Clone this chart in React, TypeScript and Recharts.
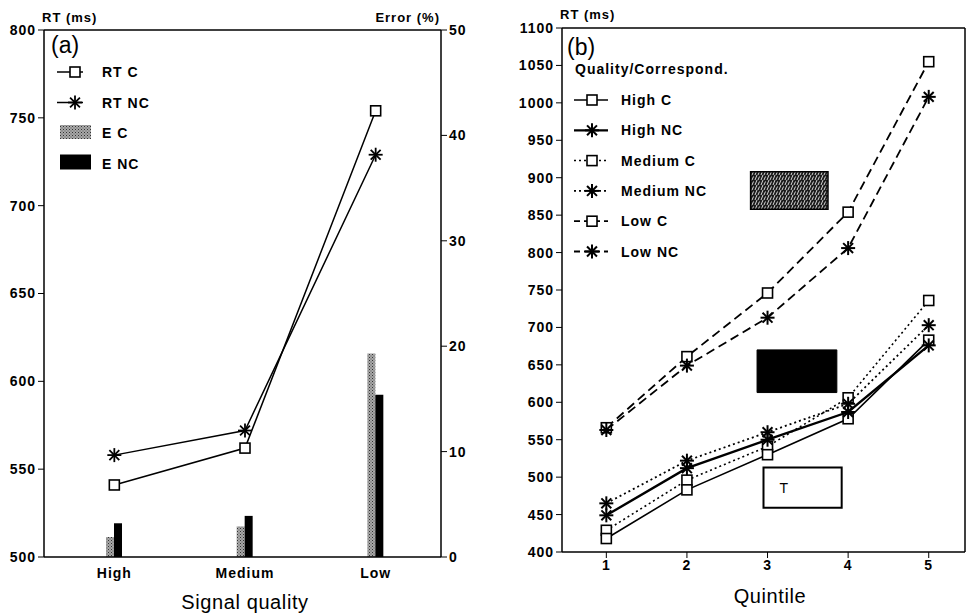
import React from 'react';
import { ComposedChart, Line, Bar, XAxis, YAxis, ReferenceLine, ReferenceArea } from 'recharts';

// ---------- Panel (a) data ----------
const qualityLevels = ['High', 'Medium', 'Low'];
const rtC = [541, 562, 754];
const rtNC = [558, 572, 729];
const errC = [1.9, 2.9, 19.3];
const errNC = [3.2, 3.9, 15.4];
const rtTicksA = [500, 550, 600, 650, 700, 750, 800];
const errTicks = [0, 10, 20, 30, 40, 50];

// ---------- Panel (b) data ----------
const quintiles = [1, 2, 3, 4, 5];
const highC = [418, 483, 530, 578, 683];
const highNC = [449, 512, 550, 587, 676];
const mediumC = [429, 496, 541, 606, 736];
const mediumNC = [465, 522, 560, 598, 703];
const lowC = [566, 661, 746, 854, 1055];
const lowNC = [563, 649, 713, 806, 1008];
const rtTicksB = [400, 450, 500, 550, 600, 650, 700, 750, 800, 850, 900, 950, 1000, 1050, 1100];

// annotation boxes in panel (b) (data coordinates)
const boxGray = { x1: 2.79, x2: 3.75, y1: 858, y2: 908 };
const boxBlack = { x1: 2.87, x2: 3.86, y1: 613, y2: 670 };
const boxT = { x1: 2.95, x2: 3.92, y1: 459, y2: 513 };

const dataA = qualityLevels.map((q, i) => ({ q, rtC: rtC[i], rtNC: rtNC[i], errC: errC[i], errNC: errNC[i] }));
const dataB = quintiles.map((q, i) => ({
  q,
  highC: highC[i],
  highNC: highNC[i],
  mediumC: mediumC[i],
  mediumNC: mediumNC[i],
  lowC: lowC[i],
  lowNC: lowNC[i],
}));

const FONT = '"Liberation Sans", Arial, sans-serif';
const tickStyle = { fontSize: 14, fontWeight: 700, fill: '#000', fontFamily: FONT, letterSpacing: 1 };

const squareDot = (size: number, sw: number) => (p: any) => {
  const { cx, cy, index } = p;
  if (cx == null || cy == null) return <g key={`s${index}`} />;
  return (
    <rect key={`s${index}`} x={cx - size / 2} y={cy - size / 2} width={size} height={size} fill="#fff" stroke="#000" strokeWidth={sw} />
  );
};

const starDot = (r: number, sw: number) => (p: any) => {
  const { cx, cy, index } = p;
  if (cx == null || cy == null) return <g key={`a${index}`} />;
  const d = r * 0.7071;
  return (
    <g key={`a${index}`} stroke="#000" strokeWidth={sw}>
      <line x1={cx - r} y1={cy} x2={cx + r} y2={cy} />
      <line x1={cx} y1={cy - r} x2={cx} y2={cy + r} />
      <line x1={cx - d} y1={cy - d} x2={cx + d} y2={cy + d} />
      <line x1={cx - d} y1={cy + d} x2={cx + d} y2={cy - d} />
    </g>
  );
};

const Star = ({ cx, cy, r, sw }: any) => {
  const d = r * 0.7071;
  return (
    <g stroke="#000" strokeWidth={sw}>
      <line x1={cx - r} y1={cy} x2={cx + r} y2={cy} />
      <line x1={cx} y1={cy - r} x2={cx} y2={cy + r} />
      <line x1={cx - d} y1={cy - d} x2={cx + d} y2={cy + d} />
      <line x1={cx - d} y1={cy + d} x2={cx + d} y2={cy - d} />
    </g>
  );
};

const legendA = [
  { name: 'RT C', kind: 'square' },
  { name: 'RT NC', kind: 'star' },
  { name: 'E C', kind: 'barC' },
  { name: 'E NC', kind: 'barNC' },
];

const legendB = [
  { name: 'High C', kind: 'square', dash: undefined as string | undefined, w: 1.5 },
  { name: 'High NC', kind: 'star', dash: undefined, w: 2.2 },
  { name: 'Medium C', kind: 'square', dash: '2 3', w: 1.5 },
  { name: 'Medium NC', kind: 'star', dash: '2 3', w: 1.8 },
  { name: 'Low C', kind: 'square', dash: '6 4', w: 1.8 },
  { name: 'Low NC', kind: 'star', dash: '6 4', w: 1.8 },
];

const textStyle = { fontSize: 14, fontWeight: 700, fontFamily: FONT, letterSpacing: 1 } as any;

export default function App() {
  return (
    <div style={{ position: 'absolute', left: 0, top: 0, width: 969, height: 614, background: '#fff', overflow: 'hidden' }}>
      {/* Panel (a) */}
      <div style={{ position: 'absolute', left: 0, top: 0 }}>
        <ComposedChart width={480} height={614} data={dataA} margin={{ top: 30, right: 0, bottom: 0, left: 0 }} barGap={0} barCategoryGap={0}>
          <defs>
            <pattern id="stipple" width="3" height="3" patternUnits="userSpaceOnUse">
              <rect width="3" height="3" fill="#a8a8a8" />
              <rect x="0" y="0" width="1" height="1" fill="#333" />
              <rect x="1.5" y="1.5" width="1" height="1" fill="#555" />
            </pattern>
          </defs>
          <XAxis
            dataKey="q"
            type="category"
            height={57}
            padding={{ left: 5, right: 0 }}
            tickLine={false}
            tickMargin={5}
            axisLine={{ stroke: '#000', strokeWidth: 1.5 }}
            tick={tickStyle}
          />
          <YAxis
            yAxisId="left"
            orientation="left"
            width={44}
            domain={[500, 800]}
            ticks={rtTicksA}
            interval={0}
            tick={tickStyle}
            tickLine={{ stroke: '#000' }}
            axisLine={{ stroke: '#000', strokeWidth: 1.5 }}
          />
          <YAxis
            yAxisId="right"
            orientation="right"
            width={39}
            domain={[0, 50]}
            ticks={errTicks}
            interval={0}
            tick={tickStyle}
            tickLine={{ stroke: '#000' }}
            axisLine={{ stroke: '#000', strokeWidth: 1.5 }}
          />
          <ReferenceLine yAxisId="left" y={800} stroke="#000" strokeWidth={1.5} />
          <Bar yAxisId="right" dataKey="errC" fill="url(#stipple)" barSize={8} isAnimationActive={false} />
          <Bar yAxisId="right" dataKey="errNC" fill="#000" barSize={8} isAnimationActive={false} />
          <Line yAxisId="left" dataKey="rtC" stroke="#000" strokeWidth={1.5} dot={squareDot(10, 1.6)} isAnimationActive={false} />
          <Line yAxisId="left" dataKey="rtNC" stroke="#000" strokeWidth={1.5} dot={starDot(7, 1.8)} isAnimationActive={false} />

          <text x={42} y={22} style={{ ...textStyle, fontSize: 13 }}>RT (ms)</text>
          <text x={440} y={22} textAnchor="end" style={{ ...textStyle, fontSize: 13 }}>Error (%)</text>
          <text x={51} y={53} style={{ fontSize: 23, fontFamily: FONT }}>(a)</text>
          {legendA.map((it, i) => {
            const cy = 72 + i * 30.5;
            return (
              <g key={it.name}>
                {it.kind === 'square' && (
                  <g>
                    <line x1={57} y1={cy} x2={83} y2={cy} stroke="#000" strokeWidth={1.5} />
                    <rect x={70} y={cy - 5} width={10} height={10} fill="#fff" stroke="#000" strokeWidth={1.6} />
                  </g>
                )}
                {it.kind === 'star' && (
                  <g>
                    <line x1={57} y1={cy} x2={83} y2={cy} stroke="#000" strokeWidth={1.5} />
                    <Star cx={75} cy={cy} r={7} sw={1.8} />
                  </g>
                )}
                {it.kind === 'barC' && <rect x={60} y={cy - 8} width={31} height={14} fill="url(#stipple)" />}
                {it.kind === 'barNC' && <rect x={60} y={cy - 9} width={31} height={15} fill="#000" />}
                <text x={102} y={cy + 5} style={textStyle}>{it.name}</text>
              </g>
            );
          })}
          <text x={245} y={609} textAnchor="middle" style={{ fontSize: 20, fontFamily: FONT, letterSpacing: 0.6 }}>Signal quality</text>
        </ComposedChart>
      </div>

      {/* Panel (b) */}
      <div style={{ position: 'absolute', left: 490, top: 0 }}>
        <ComposedChart width={479} height={614} data={dataB} margin={{ top: 28, right: 4, bottom: 0, left: 0 }}>
          <defs>
            <pattern id="hatchDark" width="6" height="5" patternUnits="userSpaceOnUse">
              <rect width="6" height="5" fill="#1c1c1c" />
              <path d="M1,5 L3,0 M4,5 L5.5,1.5" stroke="#e8e8e8" strokeWidth="0.9" />
            </pattern>
          </defs>
          <XAxis
            dataKey="q"
            type="number"
            domain={[0.45, 5.45]}
            ticks={quintiles}
            interval={0}
            allowDataOverflow
            height={62}
            tick={tickStyle}
            tickLine={{ stroke: '#000' }}
            axisLine={{ stroke: '#000', strokeWidth: 1.5 }}
          />
          <YAxis
            width={72}
            domain={[400, 1100]}
            ticks={rtTicksB}
            interval={0}
            allowDataOverflow
            tick={tickStyle}
            tickLine={{ stroke: '#000' }}
            axisLine={{ stroke: '#000', strokeWidth: 1.5 }}
          />
          <ReferenceLine y={1100} stroke="#000" strokeWidth={1.5} />
          <ReferenceLine x={5.45} stroke="#000" strokeWidth={1.5} />
          <ReferenceArea x1={boxGray.x1} x2={boxGray.x2} y1={boxGray.y1} y2={boxGray.y2} fill="url(#hatchDark)" fillOpacity={1} stroke="#000" strokeWidth={1.5} />
          <ReferenceArea x1={boxBlack.x1} x2={boxBlack.x2} y1={boxBlack.y1} y2={boxBlack.y2} fill="#000" fillOpacity={1} stroke="#000" />
          <ReferenceArea
            x1={boxT.x1}
            x2={boxT.x2}
            y1={boxT.y1}
            y2={boxT.y2}
            fill="#fff"
            fillOpacity={1}
            stroke="#000"
            strokeWidth={2}
            label={{ value: 'T', position: 'insideLeft', offset: 16, fill: '#000', fontSize: 14, fontFamily: FONT }}
          />
          <Line dataKey="lowC" stroke="#000" strokeWidth={1.8} strokeDasharray="9 5" dot={squareDot(10, 1.6)} isAnimationActive={false} />
          <Line dataKey="lowNC" stroke="#000" strokeWidth={1.8} strokeDasharray="9 5" dot={starDot(7, 2)} isAnimationActive={false} />
          <Line dataKey="mediumC" stroke="#000" strokeWidth={1.6} strokeDasharray="2 3" dot={squareDot(10, 1.6)} isAnimationActive={false} />
          <Line dataKey="mediumNC" stroke="#000" strokeWidth={1.8} strokeDasharray="2 3" dot={starDot(7, 2)} isAnimationActive={false} />
          <Line dataKey="highC" stroke="#000" strokeWidth={1.6} dot={squareDot(10, 1.6)} isAnimationActive={false} />
          <Line dataKey="highNC" stroke="#000" strokeWidth={2.4} dot={starDot(7, 2)} isAnimationActive={false} />

          <text x={70} y={19} style={{ ...textStyle, fontSize: 13 }}>RT (ms)</text>
          <text x={77} y={55} style={{ fontSize: 23, fontFamily: FONT }}>(b)</text>
          <text x={85} y={74} style={textStyle}>Quality/Correspond.</text>
          {legendB.map((it, i) => {
            const cy = 100 + i * 30.3;
            return (
              <g key={it.name}>
                <line x1={84} y1={cy} x2={118} y2={cy} stroke="#000" strokeWidth={it.w} strokeDasharray={it.dash} />
                {it.kind === 'square' ? (
                  <rect x={97} y={cy - 5} width={10} height={10} fill="#fff" stroke="#000" strokeWidth={1.6} />
                ) : (
                  <Star cx={102} cy={cy} r={7} sw={2} />
                )}
                <text x={131} y={cy + 5} style={textStyle}>{it.name}</text>
              </g>
            );
          })}
          <text x={280} y={603} textAnchor="middle" style={{ fontSize: 20, fontFamily: FONT, letterSpacing: 0.6 }}>Quintile</text>
        </ComposedChart>
      </div>
    </div>
  );
}
